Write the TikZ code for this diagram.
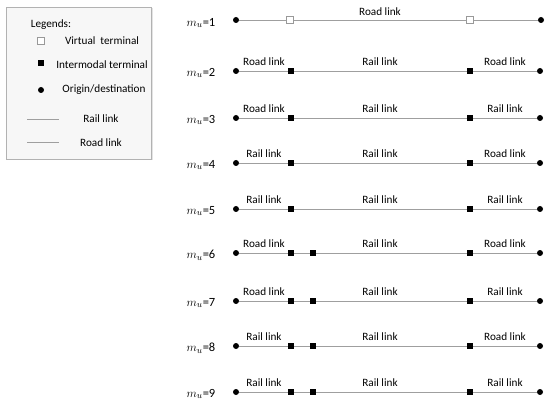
\documentclass[tikz,border=0pt]{standalone}
\usepackage{fontspec}
\setmainfont{Carlito}
\usepackage{tikz}

\tikzset{
  odnode/.style={circle, fill=black, inner sep=0pt, minimum size=6pt},
  itnode/.style={rectangle, fill=black, inner sep=0pt, minimum size=6.5pt},
  vtnode/.style={rectangle, draw=gray!80, fill=white, inner sep=0pt, minimum size=6.5pt, line width=0.6pt},
  link/.style={draw=gray!75, line width=0.7pt},
  linklabel/.style={font=\fontsize{11.2}{13}\selectfont, inner sep=1pt},
  rowlabel/.style={font=\fontsize{12.5}{14}\selectfont, inner sep=0pt}
}

\begin{document}
\begin{tikzpicture}[x=1pt, y=-1pt]
		\useasboundingbox (0,0) rectangle (550,404);
		
		% Legend box
		\fill[gray!22] (7.5,8.5) rectangle (152.5,160.5);
		\draw[gray!60, fill=gray!6] (6,7) rectangle (151,159);
		\node[linklabel] (legtitle) at (51,25) {Legends:};
		\node[vtnode] (legvt) at (41,41) {};
		\node[linklabel] (legvttext) at (102,41) {Virtual\ \ terminal};
		\node[itnode] (legit) at (41,63) {};
		\node[linklabel] (legittext) at (102,65) {Intermodal terminal};
		\node[odnode] (legod) at (41,90) {};
		\node[linklabel] (legodtext) at (104,90) {Origin/destination};
		\coordinate (railA) at (27,119);
		\coordinate (railB) at (59,119);
		\draw[link] (railA) -- (railB);
		\node[linklabel] (legrail) at (101,119) {Rail link};
		\coordinate (roadA) at (27,142);
		\coordinate (roadB) at (59,142);
		\draw[link] (roadA) -- (roadB);
		\node[linklabel] (legroad) at (101,143) {Road link};
		
		% m_u=1: road link through virtual terminals
		\node[rowlabel] (m1) at (201,23) {$m_u$=1};
		\node[odnode] (o1) at (236,20) {};
		\node[vtnode] (a1) at (290,20) {};
		\node[vtnode] (c1) at (470,20) {};
		\node[odnode] (d1) at (541,20) {};
		\draw[link] (o1) -- (a1) -- (c1) -- (d1);
		\node[linklabel] (lab1) at (380,12) {Road link};
		
		% m_u=2..5: one terminal at each end
		\foreach \r/\y/\ml/\mm/\mr in {2/71/Road/Rail/Road, 3/118/Road/Rail/Rail, 4/163/Rail/Rail/Road, 5/209/Rail/Rail/Rail} {
			\node[rowlabel] (m\r) at (201,\y+2) {$m_u$=\r};
			\node[odnode] (o\r) at (236,\y) {};
			\node[itnode] (a\r) at (291,\y) {};
			\node[itnode] (c\r) at (470,\y) {};
			\node[odnode] (d\r) at (540,\y) {};
			\draw[link] (o\r) -- (a\r) -- (c\r) -- (d\r);
			\node[linklabel] (l\r) at (264,\y-9) {\ml\ link};
			\node[linklabel] (n\r) at (380,\y-9) {\mm\ link};
			\node[linklabel] (r\r) at (505,\y-9) {\mr\ link};
		}
		
		% m_u=6..9: two terminals at the origin end
		\foreach \r/\y/\ml/\mm/\mr in {6/253/Road/Rail/Road, 7/301/Road/Rail/Rail, 8/346/Rail/Rail/Road, 9/392/Rail/Rail/Rail} {
			\node[rowlabel] (m\r) at (201,\y+2) {$m_u$=\r};
			\node[odnode] (o\r) at (236,\y) {};
			\node[itnode] (a\r) at (291,\y) {};
			\node[itnode] (b\r) at (313,\y) {};
			\node[itnode] (c\r) at (470,\y) {};
			\node[odnode] (d\r) at (540,\y) {};
			\draw[link] (o\r) -- (a\r) -- (b\r) -- (c\r) -- (d\r);
			\node[linklabel] (l\r) at (264,\y-9) {\ml\ link};
			\node[linklabel] (n\r) at (380,\y-9) {\mm\ link};
			\node[linklabel] (r\r) at (505,\y-9) {\mr\ link};
		}
		
	\end{tikzpicture}
\end{document}
